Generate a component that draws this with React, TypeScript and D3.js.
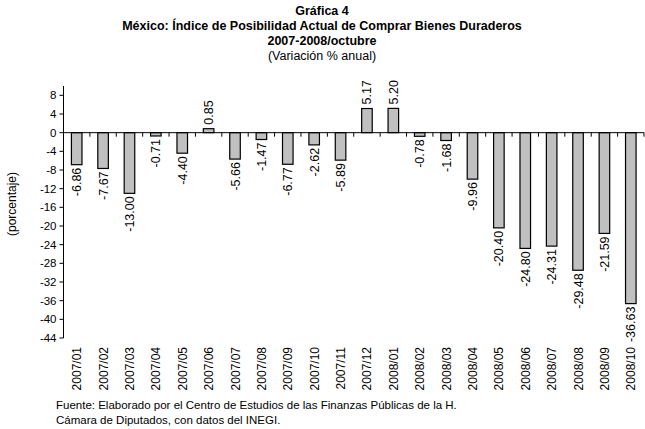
import React from "react";
import * as d3 from "d3";

const categories = ["2007/01","2007/02","2007/03","2007/04","2007/05","2007/06","2007/07","2007/08","2007/09","2007/10","2007/11","2007/12","2008/01","2008/02","2008/03","2008/04","2008/05","2008/06","2008/07","2008/08","2008/09","2008/10"];
const values = [-6.86,-7.67,-13.0,-0.71,-4.4,0.85,-5.66,-1.47,-6.77,-2.62,-5.89,5.17,5.2,-0.78,-1.68,-9.96,-20.4,-24.8,-24.31,-29.48,-21.59,-36.63];
const yTicks = [8,4,0,-4,-8,-12,-16,-20,-24,-28,-32,-36,-40,-44];
const titleLines = ["Gráfica 4","México: Índice de Posibilidad Actual de Comprar Bienes Duraderos","2007-2008/octubre"];
const subtitle = "(Variación % anual)";
const yTitle = "(porcentaje)";
const footer = ["Fuente: Elaborado por el Centro de Estudios de las Finanzas Públicas de la H.","Cámara de Diputados, con datos del INEGI."];

const W = 645, H = 429;
const left = 63.5, right = 644, top = 86, bottom = 338;
const font = "Arial, 'Liberation Sans', sans-serif";

export default function App() {
  const x = d3.scaleBand().domain(categories).range([left, right]).paddingInner(0.6).paddingOuter(0.3);
  const step = x.step();
  const y = d3.scaleLinear().domain([-44, 10]).range([bottom, top]);
  const y0 = y(0);
  return (
    <svg width={W} height={H} style={{ position: "absolute", left: 0, top: 0, background: "#fff" }} fontFamily={font}>
      {titleLines.map((t, i) => (
        <text key={i} x={322} y={14.5 + i * 15} textAnchor="middle" fontWeight="bold" fontSize={12.5}>{t}</text>
      ))}
      <text x={322} y={59.5} textAnchor="middle" fontSize={12.5}>{subtitle}</text>
      {/* y axis */}
      <line x1={left} x2={left} y1={top} y2={bottom} stroke="#000" />
      {yTicks.map((t) => (
        <g key={t}>
          <line x1={left - 4} x2={left} y1={y(t)} y2={y(t)} stroke="#000" />
          <text x={left - 7} y={y(t)} dy="0.35em" textAnchor="end" fontSize={11.5}>{t}</text>
        </g>
      ))}
      <text transform={`translate(16,${(top + bottom) / 2 - 8}) rotate(-90)`} textAnchor="middle" fontSize={12}>{yTitle}</text>
      {/* bars */}
      {values.map((v, i) => {
        const bx = x(categories[i])!;
        const yt = Math.min(y(v), y0);
        const h = Math.abs(y(v) - y0);
        return (
          <rect key={i} x={bx} y={yt} width={x.bandwidth()} height={h} fill="#c0c0c0" stroke="#000" strokeWidth={1.2} />
        );
      })}
      {/* x axis */}
      <line x1={left} x2={right} y1={y0} y2={y0} stroke="#000" />
      {categories.map((c, i) => {
        const tx = left + step * (i + 1);
        return <line key={c} x1={tx} x2={tx} y1={y0} y2={y0 + 4} stroke="#000" />;
      })}
      {/* value labels */}
      {values.map((v, i) => {
        const cx = x(categories[i])! + x.bandwidth() / 2;
        const yy = v < 0 ? y(v) + 3 : y(v) - 4;
        return (
          <text key={i} transform={`translate(${cx + 4.5},${yy}) rotate(-90)`} textAnchor={v < 0 ? "end" : "start"} fontSize={12.5}>{v.toFixed(2)}</text>
        );
      })}
      {/* category labels */}
      {categories.map((c) => {
        const cx = x(c)! + x.bandwidth() / 2;
        return (
          <text key={c} transform={`translate(${cx + 4.5},347) rotate(-90)`} textAnchor="end" fontSize={12}>{c}</text>
        );
      })}
      {footer.map((f, i) => (
        <text key={i} x={56} y={409 + i * 15} fontSize={11.5}>{f}</text>
      ))}
    </svg>
  );
}
